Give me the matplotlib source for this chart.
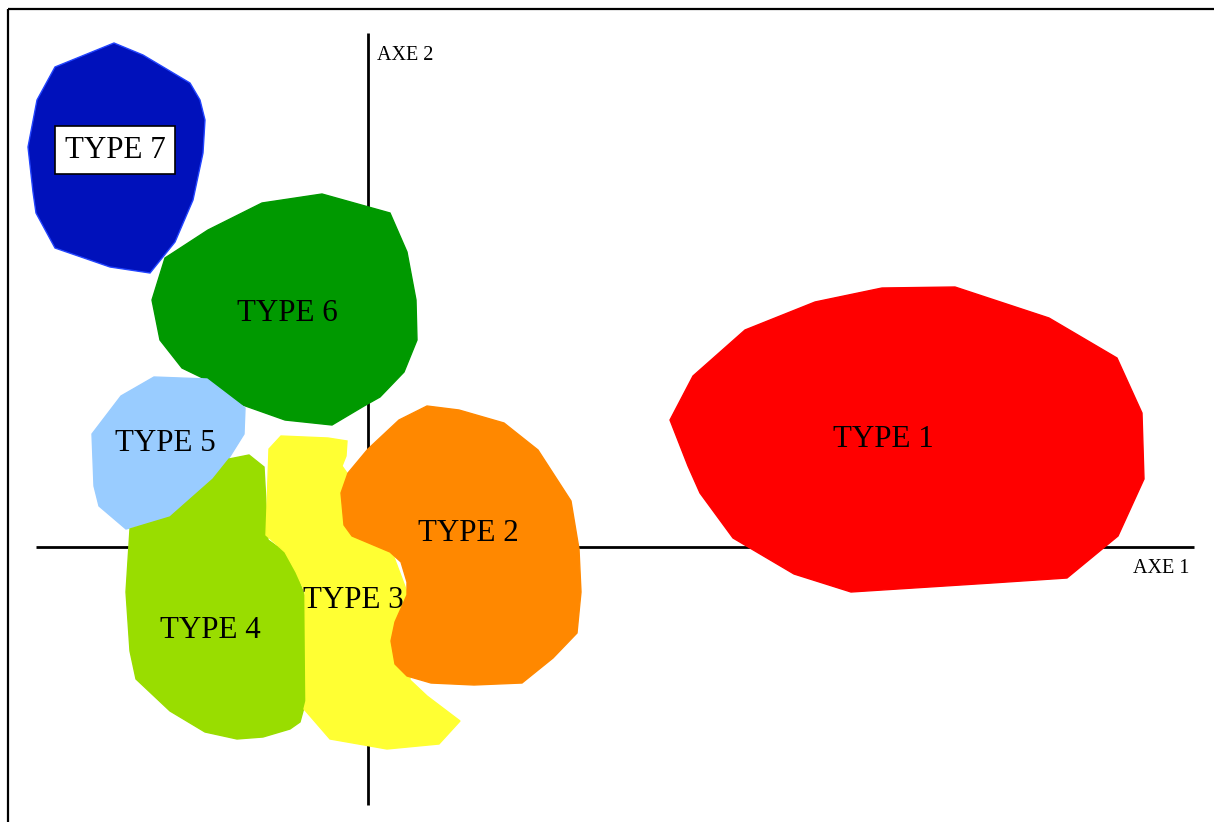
import matplotlib
matplotlib.use("Agg")
import matplotlib.pyplot as plt
from matplotlib.patches import Polygon

# ---- data: outlines of each group in the factorial plane (chart units) ----
type1_outline = [(670,420),(693,376),(745,330),(815,302),(882,288),(955,287),(1049,318),
                 (1117,358),(1142,413),(1144,479),(1118,536),(1067,578),(992,583),(851,592),
                 (794,574),(733,538),(700,493),(688,466)]
type2_outline = [(427,406),(459,410),(504,423),(538,450),(571,501),(579,549),(581,592),
                 (577,633),(553,658),(522,683),(474,685),(431,683),(407,676),(395,664),
                 (391,641),(395,622),(407,595),(407,582),(401,562),(390,552),(352,536),
                 (344,525),(341,493),(348,473),(368,449),(399,420)]
type3_outline = [(281,436),(328,438),(347,441),(346,456),(342,466),(380,520),(410,600),
                 (410,680),(427,696),(460,721),(439,744),(387,749),(330,739),(304,709),
                 (306,701),(305,592),(296,572),(285,552),(266,535),(269,449)]
type4_outline = [(229,459),(249,455),(264,467),(268,540),(285,552),(296,572),(306,600),
                 (306,700),(300,722),(290,729),(263,737),(237,739),(205,732),(170,711),
                 (136,679),(130,651),(126,592),(130,529),(170,517),(213,479)]
type5_outline = [(154,377),(207,379),(245,408),(244,434),(229,458),(213,479),(170,517),
                 (126,529),(99,506),(94,486),(92,434),(121,396)]
type6_outline = [(165,258),(208,230),(262,203),(322,194),(390,213),(407,252),(416,300),
                 (417,340),(404,372),(380,397),(364,406),(332,425),(285,420),(237,403),
                 (209,381),(182,368),(160,340),(152,300)]
type7_outline = [(114,43),(143,55),(190,83),(200,100),(205,120),(203,153),(193,200),
                 (175,242),(150,273),(110,267),(55,248),(36,213),(33,192),(28,147),
                 (37,100),(55,67)]

type_names = ["TYPE 1", "TYPE 2", "TYPE 3", "TYPE 4", "TYPE 5", "TYPE 6", "TYPE 7"]
type_colors = ["#FF0000", "#FF8800", "#FFFF33", "#99DD00", "#99CCFF", "#009900", "#0011BB"]
label_x = [883, 468, 353, 210, 165, 287, 115]
label_y = [439, 533, 600, 630, 443, 313, 150]
outlines = [type1_outline, type2_outline, type3_outline, type4_outline,
            type5_outline, type6_outline, type7_outline]
draw_order = [6, 5, 4, 3, 2, 1, 0]

axis_names = ["AXE 1", "AXE 2"]

# ---- figure ----
W, H = 1214, 822
fig = plt.figure(figsize=(W/100, H/100), dpi=100)
ax = fig.add_axes([0, 0, 1, 1])
ax.set_xlim(0, W)
ax.set_ylim(H, 0)
ax.axis("off")

serif = ["Liberation Serif", "DejaVu Serif"]

# frame (top and left edges)
ax.plot([8, W], [9, 9], color="black", lw=1.6, zorder=1, solid_capstyle="butt")
ax.plot([8, 8], [9, H], color="black", lw=1.6, zorder=1, solid_capstyle="butt")

# factorial axes
ax.plot([36, 1194], [547, 547], color="black", lw=2.0, zorder=2, solid_capstyle="butt")
ax.plot([368, 368], [33, 805], color="black", lw=2.0, zorder=2, solid_capstyle="butt")
ax.text(1133, 568, axis_names[0], family=serif, fontsize=14.5, ha="left", va="center", zorder=10)
ax.text(377, 55, axis_names[1], family=serif, fontsize=14.5, ha="left", va="center", zorder=10)

for k, i in enumerate(draw_order):
    ec = "#2244FF" if i == 6 else type_colors[i]
    poly = Polygon(outlines[i], closed=True, facecolor=type_colors[i], edgecolor=ec,
                   lw=1.0, zorder=3 + k, joinstyle="miter")
    ax.add_patch(poly)

for i, name in enumerate(type_names):
    kw = {}
    if i == 6:
        kw["bbox"] = dict(boxstyle="square,pad=0.32", facecolor="white", edgecolor="black", lw=1.2)
    ax.text(label_x[i], label_y[i], name, family=serif, fontsize=22.3, ha="center",
            va="center", color="black", zorder=20, **kw)

fig.savefig("out.png", dpi=100)
